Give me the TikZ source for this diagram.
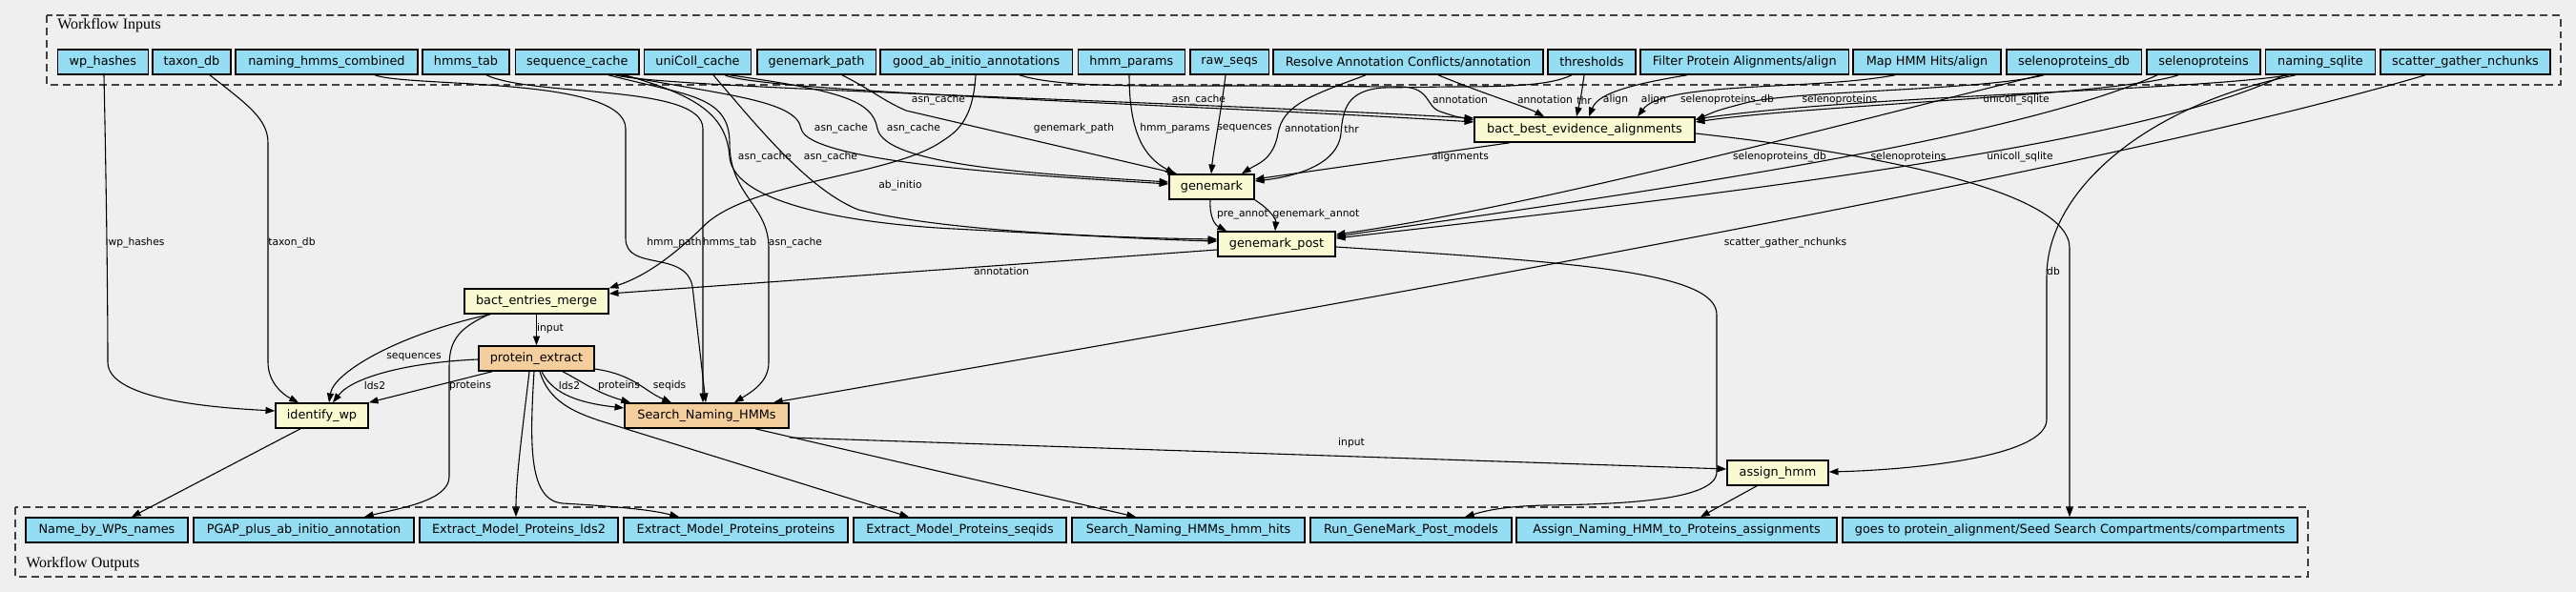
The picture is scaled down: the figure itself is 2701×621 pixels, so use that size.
\documentclass[tikz,border=0pt]{standalone}
\usepackage{fontspec}
\setmainfont{DejaVu Sans}
\newfontfamily\clusterfont{Liberation Serif}
\usetikzlibrary{arrows.meta}
\definecolor{bggray}{RGB}{239,239,239}
\definecolor{inblue}{RGB}{148,221,242}
\definecolor{stepyellow}{RGB}{250,250,210}
\definecolor{subpeach}{RGB}{245,206,158}
\def\wfbox[#1](#2)(#3:#4:#5)#6{\node[#1, minimum width={(#4-#3)*0.02cm}] (#2) at ({(#3+#4)/2},#5) {#6};}

\begin{document}
\begin{tikzpicture}[x=0.02cm, y=-0.02cm,
  wfbase/.style={draw=black, line width=0.9pt, inner sep=0pt, minimum height=0.52cm, font=\fontsize{7.3}{8.5}\selectfont},
  wfin/.style={wfbase, fill=inblue},
  stepnode/.style={wfbase, fill=stepyellow},
  subwf/.style={wfbase, fill=subpeach},
  wire/.style={line width=0.62pt, -{Triangle[length=5.5pt,width=4pt]}},
  elbl/.style={inner sep=0pt, font=\fontsize{6.1}{7}\selectfont},
  cluster/.style={draw=black!75, line width=0.8pt, dash pattern=on 4.5pt off 2.8pt},
  clbl/.style={inner sep=0pt, anchor=west, font=\clusterfont\fontsize{9.1}{10}\selectfont}]
			%%%%% START %%%%%
			
			\fill[bggray] (0,0) rectangle (2701,621);
			\useasboundingbox (0,0) rectangle (2701,621);
			
			\draw[cluster] (49,16) rectangle (2685,89);
			\node[clbl] (inlbl) at (60,27) {Workflow Inputs};
			\draw[cluster] (16,532) rectangle (2420,605);
			\node[clbl] (outlbl) at (27,592) {Workflow Outputs};
			
			% workflow inputs
			\wfbox[wfin](wp)(60.3:155.4:65){wp\_hashes}
			\wfbox[wfin](taxdb)(159.8:242:65){taxon\_db}
			\wfbox[wfin](nhc)(246.9:438:65){naming\_hmms\_combined}
			\wfbox[wfin](hmmstab)(443:534:65){hmms\_tab}
			\wfbox[wfin](seqcache)(540.6:670:65){sequence\_cache}
			\wfbox[wfin](unicoll)(675.4:787.5:65){uniColl\_cache}
			\wfbox[wfin](gmpath)(793.8:918.3:65){genemark\_path}
			\wfbox[wfin](goodab)(922.8:1124.6:65){good\_ab\_initio\_annotations}
			\wfbox[wfin](hmmpar)(1130.4:1242.4:65){hmm\_params}
			\wfbox[wfin](rawseqs)(1247.8:1330.4:65){raw\_seqs}
			\wfbox[wfin](resolve)(1335:1618:65){Resolve Annotation Conflicts/annotation}
			\wfbox[wfin](thresh)(1623:1714.7:65){thresholds}
			\wfbox[wfin](filteraln)(1720:1938.4:65){Filter Protein Alignments/align}
			\wfbox[wfin](mapaln)(1943:2098:65){Map HMM Hits/align}
			\wfbox[wfin](selendb)(2103.7:2245.4:65){selenoproteins\_db}
			\wfbox[wfin](selen)(2251:2370:65){selenoproteins}
			\wfbox[wfin](namsql)(2375.5:2490.4:65){naming\_sqlite}
			\wfbox[wfin](sgn)(2496:2674:65){scatter\_gather\_nchunks}
			
			% workflow outputs
			\wfbox[wfin](onames)(27:197:556){Name\_by\_WPs\_names}
			\wfbox[wfin](opgap)(203:434:556){PGAP\_plus\_ab\_initio\_annotation}
			\wfbox[wfin](olds)(440:648:556){Extract\_Model\_Proteins\_lds2}
			\wfbox[wfin](oprot)(654:889:556){Extract\_Model\_Proteins\_proteins}
			\wfbox[wfin](oseqids)(895:1118:556){Extract\_Model\_Proteins\_seqids}
			\wfbox[wfin](ohits)(1124:1368:556){Search\_Naming\_HMMs\_hmm\_hits}
			\wfbox[wfin](omodels)(1374:1585:556){Run\_GeneMark\_Post\_models}
			\wfbox[wfin](oassign)(1590:1926:556){Assign\_Naming\_HMM\_to\_Proteins\_assignments}
			\wfbox[wfin](ocomp)(1932:2409:556){goes to protein\_alignment/Seed Search Compartments/compartments}
			
			% steps
			\wfbox[stepnode](bbea)(1546:1777:136){bact\_best\_evidence\_alignments}
			\wfbox[stepnode](gmk)(1226:1315:196){genemark}
			\wfbox[stepnode](gmkpost)(1277:1400:256){genemark\_post}
			\wfbox[stepnode](bem)(487:638:316){bact\_entries\_merge}
			\wfbox[subwf](pext)(502:623:376){protein\_extract}
			\wfbox[stepnode](iwp)(289:386:436){identify\_wp}
			\wfbox[subwf](snh)(655:827:436){Search\_Naming\_HMMs}
			\wfbox[stepnode](ahmm)(1811:1917:496){assign\_hmm}
			
			% left column
			\draw[wire] (wp.south -| 109,0) .. controls (112,220) and (113,330) .. (113,380) .. controls (113,420) and (230,428) .. (iwp.west |- 0,431);
			\draw[wire] (taxdb.south -| 220,0) .. controls (260,110) and (281,125) .. (281,150) -- (281,380) .. controls (281,400) and (295,413) .. (iwp.north -| 313,0);
			\draw[wire] (nhc.south -| 393,0) .. controls (430,92) and (656,80) .. (656,135) -- (656,250) .. controls (656,285) and (718,262) .. (726,300) -- (snh.north -| 740,0);
			\draw[wire] (hmmstab.south -| 510,0) .. controls (560,102) and (737,88) .. (737,135) -- (snh.north -| 737,0);
			\draw[wire] (seqcache.south -| 638,0) .. controls (720,100) and (765,100) .. (765,150) .. controls (765,205) and (806,215) .. (806,260) -- (806,380) .. controls (806,400) and (790,410) .. (snh.north -| 770,0);
			
			% caches
			\draw[wire] (seqcache.south -| 645,0) .. controls (690,92) and (1200,105) .. (bbea.west |- 0,124);
			\draw[wire] (unicoll.south -| 760,0) .. controls (800,97) and (1300,112) .. (bbea.west |- 0,128);
			\draw[wire] (seqcache.south -| 650,0) .. controls (760,100) and (835,105) .. (840,135) .. controls (848,172) and (1100,185) .. (gmk.west |- 0,193);
			\draw[wire] (unicoll.south -| 765,0) .. controls (880,95) and (915,105) .. (920,135) .. controls (928,175) and (1100,183) .. (gmk.west |- 0,191);
			\draw[wire] (seqcache.south -| 655,0) .. controls (730,100) and (762,120) .. (765,165) .. controls (770,215) and (900,235) .. (1000,240) .. controls (1150,248) and (1230,252) .. (gmkpost.west |- 0,253);
			\draw[wire] (unicoll.south -| 748,0) .. controls (800,140) and (850,200) .. (900,220) .. controls (1000,245) and (1200,250) .. (gmkpost.west |- 0,251);
			
			% into genemark
			\draw[wire] (gmpath.south -| 883,0) .. controls (915,95) and (925,105) .. (950,116) -- (gmk.north -| 1234,0);
			\draw[wire] (goodab.south -| 1023,0) .. controls (1020,130) and (1000,140) .. (985,150) .. controls (930,185) and (790,190) .. (740,235) .. controls (700,275) and (670,292) .. (bem.north east);
			\draw[wire] (hmmpar.south -| 1184,0) .. controls (1184,140) and (1200,165) .. (gmk.north -| 1232,0);
			\draw[wire] (rawseqs.south -| 1285,0) .. controls (1280,120) and (1272,160) .. (gmk.north -| 1270,0);
			\draw[wire] (resolve.south -| 1432,0) .. controls (1375,100) and (1345,110) .. (1340,140) .. controls (1335,168) and (1318,172) .. (gmk.north -| 1302,0);
			\draw[wire] (thresh.south -| 1648,0) .. controls (1625,90) and (1580,91) .. (1520,91) -- (1450,92) .. controls (1412,95) and (1408,115) .. (1406,140) .. controls (1403,172) and (1360,185) .. (gmk.east |- 0,190);
			\draw[wire] (bbea.south -| 1583,0) -- (gmk.east |- 0,188);
			
			% into bact_best_evidence_alignments
			\draw[wire] (goodab.south -| 1069,0) .. controls (1110,92) and (1200,90) .. (1300,90) -- (1470,91) .. controls (1500,92) and (1495,112) .. (1510,117) .. controls (1525,122) .. (bbea.west |- 0,126);
			\draw[wire] (resolve.south -| 1508,0) .. controls (1560,100) and (1600,112) .. (bbea.north -| 1619,0);
			\draw[wire] (thresh.south -| 1661,0) .. controls (1658,100) .. (bbea.north -| 1653,0);
			\draw[wire] (filteraln.south -| 1769,0) .. controls (1700,90) and (1675,100) .. (bbea.north -| 1666,0);
			\draw[wire] (mapaln.south -| 1987,0) .. controls (1900,95) and (1745,85) .. (bbea.north -| 1717,0);
			\draw[wire] (selendb.south -| 2143,0) .. controls (2080,95) and (1880,95) .. (1830,108) .. controls (1800,116) .. (bbea.east |- 0,126);
			\draw[wire] (selen.south -| 2284,0) .. controls (2220,100) and (1900,110) .. (bbea.east |- 0,128);
			\draw[wire] (namsql.south -| 2400,0) .. controls (2300,95) and (1950,100) .. (bbea.east |- 0,125);
			\draw[wire] (bbea.east |- 0,140) .. controls (1960,160) and (2170,200) .. (2170,260) -- (ocomp.north -| 2170,0);
			
			% into genemark_post
			\draw[wire] (selendb.south -| 2140,0) .. controls (1950,125) and (1620,215) .. (gmkpost.east |- 0,246);
			\draw[wire] (selen.south -| 2262,0) .. controls (2100,150) and (1700,205) .. (gmkpost.east |- 0,248);
			\draw[wire] (namsql.south -| 2395,0) .. controls (2230,160) and (1700,215) .. (gmkpost.east |- 0,250);
			\draw[wire] (gmk.south -| 1269,0) .. controls (1268,228) and (1274,236) .. (gmkpost.north -| 1286,0);
			\draw[wire] (gmk.south east) .. controls (1332,220) and (1338,230) .. (gmkpost.north -| 1337,0);
			
			\draw[wire] (namsql.south -| 2407,0) .. controls (2250,110) and (2146,200) .. (2146,290) -- (2146,440) .. controls (2146,480) and (2000,493) .. (ahmm.east |- 0,495);
			\draw[wire] (sgn.south -| 2543,0) .. controls (2200,180) and (1400,320) .. (snh.north -| 811,0);
			
			\draw[wire] (gmkpost.west |- 0,262) -- (bem.east |- 0,308);
			\draw[wire] (gmkpost.east |- 0,259) .. controls (1650,275) and (1800,285) .. (1800,330) -- (1800,495) .. controls (1800,525) and (1700,529) .. (1620,530) .. controls (1580,531) and (1560,535) .. (omodels.north -| 1536,0);
			
			% lower part
			\draw[wire] (bem.south) -- (pext.north);
			\draw[wire] (bem.south -| 514,0) .. controls (420,350) and (350,390) .. (iwp.north -| 345,0);
			\draw[wire] (bem.south -| 513,0) .. controls (478,345) and (471,360) .. (471,385) -- (471,500) .. controls (471,525) and (420,533) .. (opgap.north -| 382,0);
			\draw[wire] (pext.west |- 0,377) .. controls (430,380) and (370,395) .. (iwp.north -| 349,0);
			\draw[wire] (pext.south -| 516,0) -- (iwp.north east);
			\draw[wire] (pext.south -| 568,0) .. controls (578,410) and (600,422) .. (snh.west |- 0,428);
			\draw[wire] (pext.south -| 590,0) .. controls (610,400) and (625,412) .. (snh.north -| 661,0);
			\draw[wire] (pext.east |- 0,387) .. controls (665,393) and (675,410) .. (snh.north -| 704,0);
			\draw[wire] (pext.south -| 555,0) .. controls (548,450) and (541,500) .. (olds.north -| 541,0);
			\draw[wire] (pext.south -| 560,0) .. controls (555,470) and (555,525) .. (590,528) .. controls (640,531) and (680,534) .. (oprot.north -| 712,0);
			\draw[wire] (pext.south -| 566,0) .. controls (575,420) and (600,432) .. (631,442) -- (oseqids.north -| 953,0);
			\draw[wire] (snh.east |- 0,459) -- (ahmm.west |- 0,492);
			\draw[wire] (snh.south -| 792,0) -- (ohits.north -| 1191,0);
			\draw[wire] (iwp.south -| 315,0) -- (onames.north -| 138,0);
			\draw[wire] (ahmm.south -| 1842,0) -- (oassign.north -| 1783,0);
			
			% edge labels
			\node[elbl] (lwph) at (143,255) {wp\_hashes};
			\node[elbl] (ltax) at (306,255) {taxon\_db};
			\node[elbl] (lhpath) at (707,255) {hmm\_path};
			\node[elbl] (lhtab) at (765,255) {hmms\_tab};
			\node[elbl] (lac1) at (834,255) {asn\_cache};
			\node[elbl] (lac2) at (984,105) {asn\_cache};
			\node[elbl] (lac3) at (1257,105) {asn\_cache};
			\node[elbl] (lac4) at (882,135) {asn\_cache};
			\node[elbl] (lac5) at (958,135) {asn\_cache};
			\node[elbl] (lac6) at (802,165) {asn\_cache};
			\node[elbl] (lac7) at (871,165) {asn\_cache};
			\node[elbl] (lgmp) at (1126,135) {genemark\_path};
			\node[elbl] (labi) at (944,195) {ab\_initio};
			\node[elbl] (lhpar) at (1232,135) {hmm\_params};
			\node[elbl] (lseq1) at (1305,135) {sequences};
			\node[elbl] (lann1) at (1376,135) {annotation};
			\node[elbl] (lthr1) at (1417,135) {thr};
			\node[elbl] (lann2) at (1531,105) {annotation};
			\node[elbl] (lann3) at (1620,105) {annotation};
			\node[elbl] (lthr2) at (1661,105) {thr};
			\node[elbl] (lal1) at (1694,105) {align};
			\node[elbl] (lal2) at (1734,105) {align};
			\node[elbl] (lsdb1) at (1811,105) {selenoproteins\_db};
			\node[elbl] (lsel1) at (1929,105) {selenoproteins};
			\node[elbl] (luni1) at (2114,105) {unicoll\_sqlite};
			\node[elbl] (laln) at (1531,165) {alignments};
			\node[elbl] (lsdb2) at (1866,165) {selenoproteins\_db};
			\node[elbl] (lsel2) at (2001,165) {selenoproteins};
			\node[elbl] (luni2) at (2118,165) {unicoll\_sqlite};
			\node[elbl] (lpre) at (1303,225) {pre\_annot};
			\node[elbl] (lgma) at (1380,225) {genemark\_annot};
			\node[elbl] (lsgn) at (1872,255) {scatter\_gather\_nchunks};
			\node[elbl] (lann4) at (1050,285) {annotation};
			\node[elbl] (ldb) at (2153,285) {db};
			\node[elbl] (lin1) at (577,345) {input};
			\node[elbl] (lseq2) at (434,375) {sequences};
			\node[elbl] (llds1) at (393,405) {lds2};
			\node[elbl] (lprot1) at (493,405) {proteins};
			\node[elbl] (llds2) at (597,405) {lds2};
			\node[elbl] (lprot2) at (649,405) {proteins};
			\node[elbl] (lsqid) at (702,405) {seqids};
			\node[elbl] (lin2) at (1417,465) {input};
			
			%%%%% END %%%%%
\end{tikzpicture}
\end{document}
